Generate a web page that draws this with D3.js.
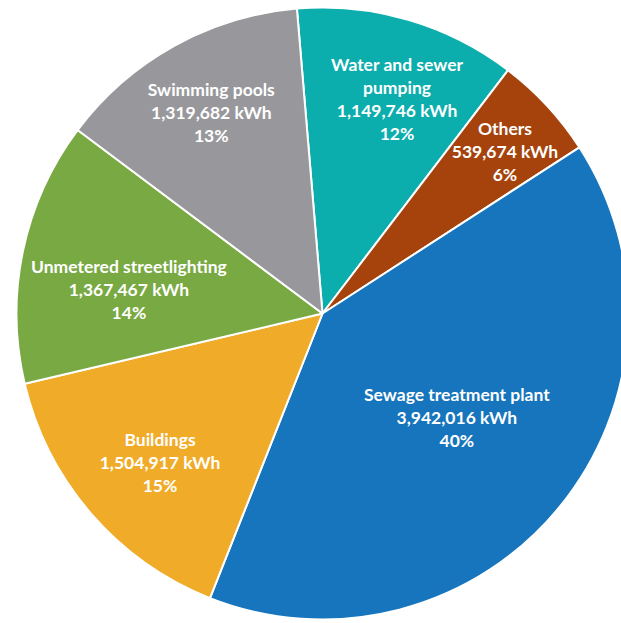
<!DOCTYPE html>
<html>
<head>
<meta charset="utf-8">
<script src="https://cdn.jsdelivr.net/npm/d3@7"></script>
<style>
  html, body { margin: 0; padding: 0; background: #fff; }
  svg { display: block; }
</style>
</head>
<body>
<svg id="chart"></svg>
<script>
// slices, clockwise from just left of 12 o'clock
const categories = ["Water and sewer pumping", "Others", "Sewage treatment plant", "Buildings", "Unmetered streetlighting", "Swimming pools"];
const values = [1149746, 539674, 3942016, 1504917, 1367467, 1319682];
const percents = ["12%", "6%", "40%", "15%", "14%", "13%"];
const labelLines = [
  ["Water and sewer", "pumping"],
  ["Others"],
  ["Sewage treatment plant"],
  ["Buildings"],
  ["Unmetered streetlighting"],
  ["Swimming pools"]
];
const colors = ["#0badad", "#a6430c", "#1675bc", "#f0ac29", "#79a942", "#98989c"];

// label placement: distance from centre (share of radius) and a small nudge off the mid angle (degrees)
const labelRadius = [0.742, 0.797, 0.556, 0.722, 0.637, 0.75];
const labelShift = [2.9, 1.2, -1.5, -1.8, -5, 0];

const width = 621, height = 623;
const cx = 322.5, cy = 313.5, radius = 306;
const deg = Math.PI / 180;

let svg = d3.select("#chart").attr("width", width).attr("height", height);
let g = svg.append("g").attr("transform", "translate(" + cx + "," + cy + ")");

let data = categories.map((c, i) => ({ name: c, value: values[i], i: i }));

let pie = d3.pie()
  .sort(null)
  .value(d => d.value)
  .startAngle(-4.8 * deg)
  .endAngle(360 * deg - 4.8 * deg);

let arcs = pie(data);
let arc = d3.arc().innerRadius(0).outerRadius(radius);

g.selectAll("path")
  .data(arcs)
  .enter()
  .append("path")
  .attr("d", arc)
  .attr("fill", d => colors[d.data.i])
  .attr("stroke", "#fff")
  .attr("stroke-width", 2)
  .attr("stroke-linejoin", "round");

let fmt = d3.format(",");
let lineH = 23;

let labels = g.selectAll("text")
  .data(arcs)
  .enter()
  .append("text")
  .attr("font-family", "Lato, 'Open Sans', sans-serif")
  .attr("font-weight", "bold")
  .attr("font-size", "17.5px")
  .attr("fill", "#fff")
  .attr("text-anchor", "middle")
  .attr("transform", d => {
    let r = radius * labelRadius[d.data.i];
    let a = (d.startAngle + d.endAngle) / 2 + labelShift[d.data.i] * deg;
    return "translate(" + (r * Math.sin(a)) + "," + (-r * Math.cos(a)) + ")";
  });

labels.each(function(d) {
  let lines = labelLines[d.data.i].concat([fmt(d.data.value) + " kWh", percents[d.data.i]]);
  let t = d3.select(this);
  let y0 = -(lines.length - 1) / 2 * lineH + 6;
  lines.forEach((l, k) => {
    t.append("tspan").attr("x", 0).attr("y", y0 + k * lineH).text(l);
  });
});
</script>
</body>
</html>
